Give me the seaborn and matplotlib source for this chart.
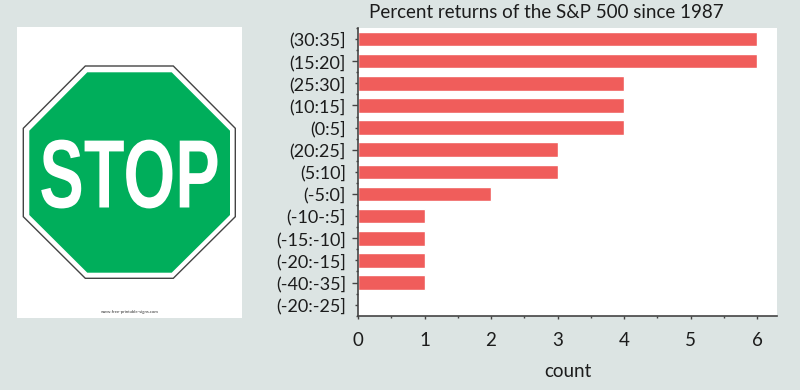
import matplotlib
matplotlib.use('Agg')
import matplotlib.pyplot as plt
import matplotlib.patheffects as pe
from matplotlib.patches import Polygon
from matplotlib.ticker import MultipleLocator
from matplotlib.transforms import Affine2D
import pandas as pd
import seaborn as sns

bins = ['(30:35]', '(15:20]', '(25:30]', '(10:15]', '(0:5]', '(20:25]', '(5:10]',
        '(-5:0]', '(-10-:5]', '(-15:-10]', '(-20:-15]', '(-40:-35]', '(-20:-25]']
counts = [6, 6, 4, 4, 4, 3, 3, 2, 1, 1, 1, 1, 0]

bg = '#dce4e3'
bar_color = '#f05d5b'
sign_green = '#00ae5b'
ink = '#1c1c1c'

sns.set_theme(style='white')
plt.rcParams['font.family'] = ['Lato', 'DejaVu Sans']

W, H = 800, 390
fig = plt.figure(figsize=(8, 3.9), dpi=100, facecolor=bg)


def px_axes(left, top, right, bottom):
    return fig.add_axes([left / W, 1 - bottom / H, (right - left) / W, (bottom - top) / H])


# stop sign picture on the left, in pixel coordinates
ax_img = px_axes(17, 27, 242, 317.7)
ax_img.set_xlim(17, 242)
ax_img.set_ylim(317.7, 27)
ax_img.axis('off')
ax_img.add_patch(plt.Rectangle((17, 27), 225, 290.7, fc='white', ec='none'))
outer = [(85.3, 66), (173.3, 66), (235.3, 128.3), (235.3, 216.7),
         (173.3, 278.3), (85.3, 278.3), (23.3, 216.7), (23.3, 128.3)]
inner = [(87.3, 72.3), (171.7, 72.3), (230, 130.7), (230, 215),
         (171.7, 272.7), (87.3, 272.7), (29.3, 215), (29.3, 130.7)]
ax_img.add_patch(Polygon(outer, closed=True, fc='white', ec='#444444', lw=1))
ax_img.add_patch(Polygon(inner, closed=True, fc=sign_green, ec='none'))


class Squeeze(pe.AbstractPathEffect):
    # narrows the glyphs about a fixed centre, the sign lettering is very condensed
    def __init__(self, sx, cx):
        super().__init__()
        self.sx = sx
        self.cx = cx

    def draw_path(self, renderer, gc, tpath, affine, rgbFace=None):
        squeeze = Affine2D().translate(-self.cx, 0).scale(self.sx, 1).translate(self.cx, 0)
        renderer.draw_path(gc, tpath, affine + squeeze, rgbFace)


stop = ax_img.text(129.5, 207.5, 'STOP', color='white', fontsize=70, weight='bold',
                   ha='center', va='baseline', family=['Liberation Sans', 'DejaVu Sans'])
stop_cx = ax_img.transData.transform((129.5, 207.5))[0]
stop.set_path_effects([Squeeze(0.686, stop_cx)])
ax_img.text(129.5, 312.5, 'www.free-printable-signs.com', color='#333333', fontsize=3.2,
            ha='center', va='center')

# bar chart
ax = px_axes(358, 28, 777, 315.7)
df = pd.DataFrame({'bin': bins, 'count': counts})
sns.barplot(data=df, x='count', y='bin', color=bar_color, saturation=1, width=0.66, ax=ax)
ax.set_facecolor('white')
ax.set_xlim(0, 6.3)
ax.set_ylim(12.5, -0.5)
ax.set_ylabel('')
ax.set_xlabel('count', fontsize=13.5, color=ink, labelpad=10)
# title sits left of the axes centre in the reference
fig.text(546.5 / W, 1 - 12 / H, 'Percent returns of the S&P 500 since 1987', fontsize=13.5,
         color=ink, ha='center', va='center')
sns.despine(ax=ax)
for side in ['left', 'bottom']:
    ax.spines[side].set_color('#444444')
    ax.spines[side].set_linewidth(1.2)
ax.xaxis.set_major_locator(MultipleLocator(1))
ax.xaxis.set_minor_locator(MultipleLocator(0.5))
ax.yaxis.set_minor_locator(MultipleLocator(0.5))
ax.tick_params(axis='x', which='major', length=2.5, width=1, color='#444444',
               labelsize=13.5, labelcolor=ink, bottom=True, pad=9)
ax.tick_params(axis='y', which='major', length=2.2, width=1, color='#444444',
               labelsize=13, labelcolor=ink, left=True, pad=6.4)
ax.tick_params(axis='both', which='minor', length=1.5, width=1, color='#444444',
               bottom=True, left=True)
# every second category tick is longer
for tick in ax.yaxis.get_major_ticks()[1::2]:
    tick.tick1line.set_markersize(4)

fig.savefig('out.png', dpi=100, facecolor=bg)
